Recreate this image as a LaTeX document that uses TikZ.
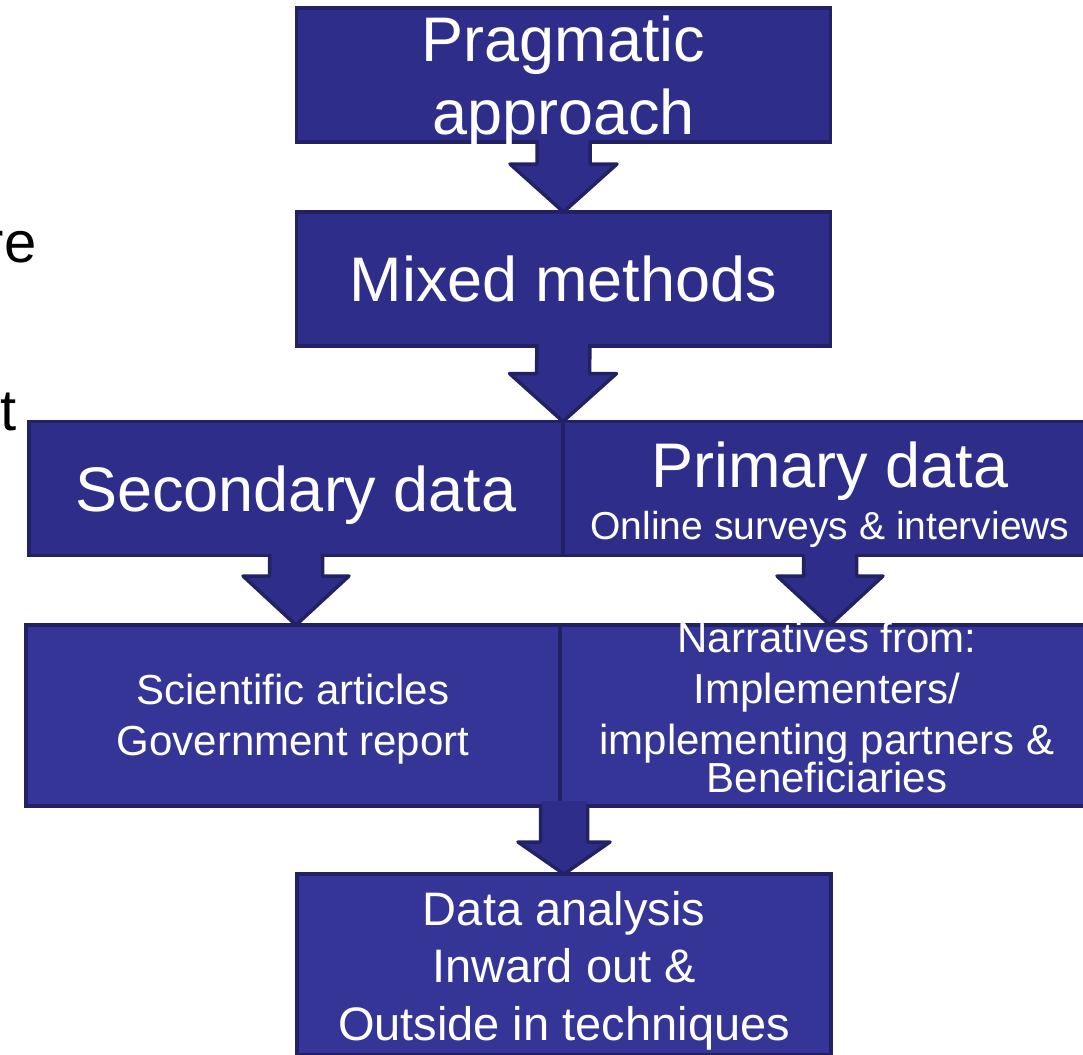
\documentclass[tikz,border=0pt]{standalone}
\usepackage{fontspec}
\setmainfont{Liberation Sans}
\usetikzlibrary{calc}

\definecolor{boxfill}{RGB}{46,46,138}
\definecolor{boxfilllow}{RGB}{53,53,152}
\definecolor{boxline}{RGB}{33,33,100}

% block arrow: #1 top, #2 tip, #3 half shaft, #4 half head, #5 head length
\newcommand{\blockarrow}[5]{%
  \fill[boxfill] ($(#1)+(-#3,-5)$) -- ($(#2)+(-#3,-#5)$) -- ($(#2)+(-#4,-#5)$) -- (#2)
    -- ($(#2)+(#4,-#5)$) -- ($(#2)+(#3,-#5)$) -- ($(#1)+(#3,-5)$) -- cycle;
  \draw[arrowline] ($(#1)+(-#3,-1.75)$) -- ($(#2)+(-#3,-#5)$) -- ($(#2)+(-#4,-#5)$) -- (#2)
    -- ($(#2)+(#4,-#5)$) -- ($(#2)+(#3,-#5)$) -- ($(#1)+(#3,-1.75)$);
}

\begin{document}
\begin{tikzpicture}[
  x=1pt,y=-1pt,
  box/.style={draw=boxline,line width=3.5pt,minimum width=534pt,align=center,inner sep=0pt,outer sep=0pt,text=white},
  upper/.style={box,fill=boxfill,minimum height=134pt},
  lower/.style={box,fill=boxfilllow,minimum height=181pt},
  big/.style={font=\fontsize{63}{73}\selectfont},
  arrowline/.style={draw=boxline,line width=3.5pt,line join=round}
]
\useasboundingbox (0,0) rectangle (1083,1054);
\clip (0,0) rectangle (1083,1054);

% cut-off slide text on the left
\node[font=\fontsize{58}{70}\selectfont,anchor=base east] (cutre) at (40,262) {re};
\node[font=\fontsize{58}{70}\selectfont,anchor=base east] (cutt) at (20,430) {t};

\node[upper,big,inner ysep=-8pt] (prag) at (563.5,75) {\rule{0pt}{60pt}Pragmatic\\approach};
\node[upper,big] (mixed) at (563.5,279) {Mixed methods};
\node[upper,big,text depth=0pt] (second) at (296,488.5) {Secondary data};
\node[upper,font=\fontsize{63}{52}\selectfont] (primary) at (830,488.5)
  {\rule{0pt}{59pt}Primary data\\{\fontsize{39}{47}\selectfont Online surveys \& interviews}};

\node[lower,font=\fontsize{42}{51}\selectfont] (scient) at (293,715.5)
  {\rule{0pt}{38pt}Scientific articles\\Government report};
\node[lower,font=\fontsize{42}{51}\selectfont,inner ysep=-6pt] (narr) at (827,715.5)
  {Narratives from:\\Implementers/\\implementing partners \&\\[-13pt]Beneficiaries\rule[-16pt]{0pt}{16pt}};
\node[lower,font=\fontsize{47}{57.5}\selectfont] (analysis) at (564,964.5)
  {\rule{0pt}{46pt}Data analysis\\Inward out \&\\Outside in techniques};

\coordinate (tipl) at (second.south |- scient.north);
\coordinate (tipr) at (primary.south |- narr.north);
\coordinate (topa) at (analysis.north |- scient.south);

\blockarrow{prag.south}{mixed.north}{26.5}{53.5}{48}
\blockarrow{mixed.south}{primary.north west}{26.5}{53.5}{48}
\blockarrow{second.south}{tipl}{26.5}{53}{49}
\blockarrow{primary.south}{tipr}{26.5}{53}{49}
\blockarrow{topa}{analysis.north}{23.5}{46}{32}
\end{tikzpicture}
\end{document}
